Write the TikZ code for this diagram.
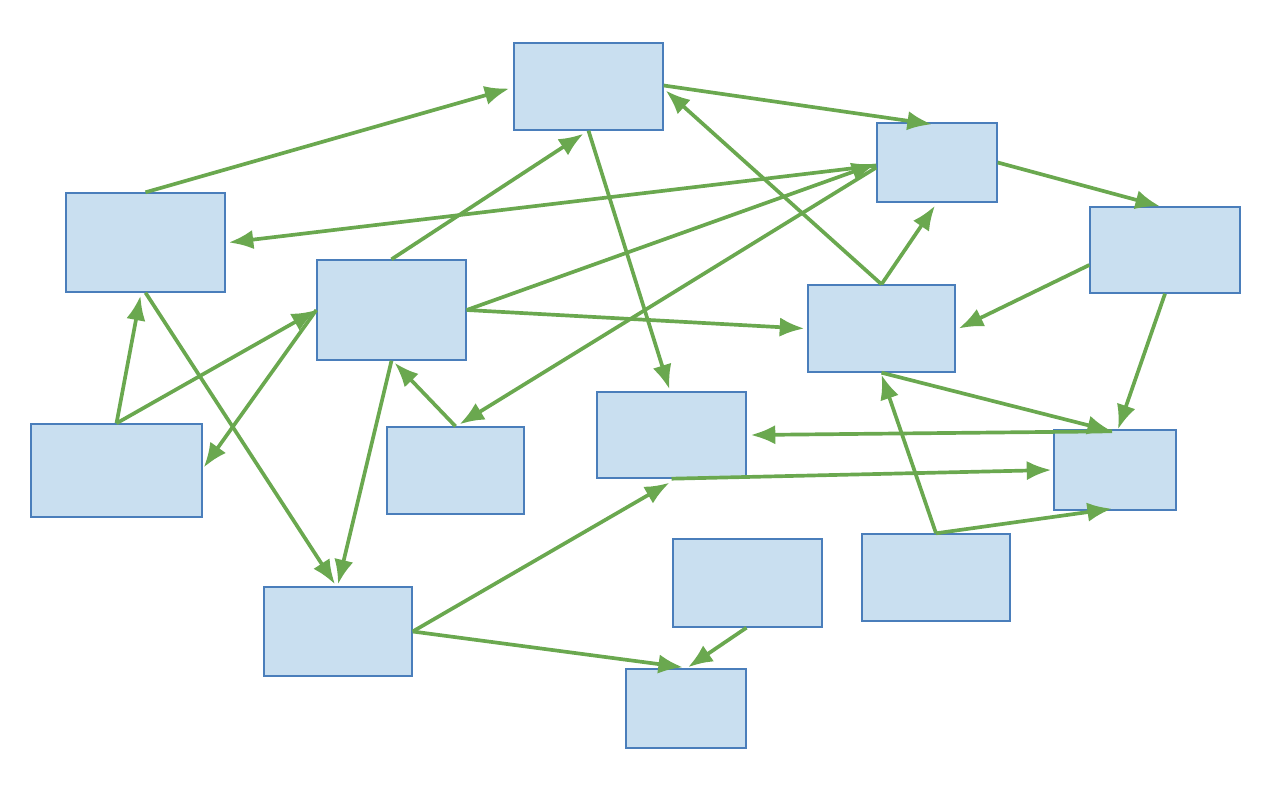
\documentclass[tikz,border=0pt]{standalone}
\usetikzlibrary{calc,arrows.meta}

\definecolor{boxfill}{HTML}{C9DFF0}
\definecolor{boxline}{HTML}{4A7EBB}
\definecolor{arrowgreen}{HTML}{6AA84F}

\tikzset{
  box/.style={draw=boxline, fill=boxfill, line width=0.8pt, inner sep=0pt},
  link/.style={draw=arrowgreen, line width=2.1pt, -{Latex[length=14pt,width=11pt]}}
}

\begin{document}
\begin{tikzpicture}[x=0.02cm, y=-0.02cm]
					\useasboundingbox (0,0) rectangle (1280,800);

					% Boxes
					\node[box, minimum width=2.98cm, minimum height=1.74cm] (A) at (588.5,86.5) {};
					\node[box, minimum width=2.4cm, minimum height=1.58cm] (B) at (937,162.5) {};
					\node[box, minimum width=3cm, minimum height=1.72cm] (C) at (1165,250) {};
					\node[box, minimum width=3.18cm, minimum height=1.98cm] (D) at (145.5,242.5) {};
					\node[box, minimum width=2.98cm, minimum height=2cm] (E) at (391.5,310) {};
					\node[box, minimum width=2.94cm, minimum height=1.74cm] (F) at (881.5,328.5) {};
					\node[box, minimum width=3.42cm, minimum height=1.86cm] (G) at (116.5,470.5) {};
					\node[box, minimum width=2.74cm, minimum height=1.74cm] (H) at (455.5,470.5) {};
					\node[box, minimum width=2.98cm, minimum height=1.72cm] (I) at (671.5,435) {};
					\node[box, minimum width=2.44cm, minimum height=1.6cm] (J) at (1115,470) {};
					\node[box, minimum width=2.96cm, minimum height=1.74cm] (K) at (936,577.5) {};
					\node[box, minimum width=2.98cm, minimum height=1.76cm] (L) at (747.5,583) {};
					\node[box, minimum width=2.96cm, minimum height=1.78cm] (M) at (338,631.5) {};
					\node[box, minimum width=2.4cm, minimum height=1.58cm] (N) at (686,708.5) {};

					% Connectors
					\draw[link] (D.north) -- ($(A.west)+(-4,2)$);
					\draw[link] ($(A.east)+(0,-1)$) -- ($(B.north)+(-5,2)$);
					\draw[link] ($(B.west)+(0,3)$) -- ($(D.east)+(3,0)$);
					\draw[link] (B.east) -- ($(C.north)+(-5,0)$);
					\draw[link] (E.north) -- ($(A.south)+(-5,3)$);
					\draw[link] (E.east) -- ($(B.west)+(0,1)$);
					\draw[link] (E.east) -- ($(F.west)+(-3,0)$);
					\draw[link] ($(B.west)+(0,5)$) -- ($(H.north)+(4,-2)$);
					\draw[link] (F.north) -- ($(A.east)+(2,4)$);
					\draw[link] (F.north) -- ($(B.south)+(-2,3)$);
					\draw[link] ($(C.west)+(0,15)$) -- ($(F.east)+(3,0)$);
					\draw[link] (C.south) -- ($(J.north)+(3,0)$);
					\draw[link] (F.south) -- ($(J.north)+(-3,2)$);
					\draw[link] ($(J.north)+(-3,2)$) -- ($(I.east)+(4,0)$);
					\draw[link] (I.south) -- ($(J.west)+(-2,0)$);
					\draw[link] (K.north) -- ($(F.south)+(0,2)$);
					\draw[link] (K.north) -- ($(J.south)+(-3,-2)$);
					\draw[link] (A.south) -- ($(I.north)+(-2,-2)$);
					\draw[link] (D.south) -- ($(M.north)+(-3,-2)$);
					\draw[link] (G.north) -- ($(D.south)+(-5,3)$);
					\draw[link] (G.north) -- (E.west);
					\draw[link] (E.west) -- ($(G.east)+(1,-3)$);
					\draw[link] (E.south) -- ($(M.north)+(0,-2)$);
					\draw[link] (H.north) -- ($(E.south)+(3,2)$);
					\draw[link] (M.east) -- ($(I.south)+(-2,4)$);
					\draw[link] (M.east) -- ($(N.north)+(-3,-1)$);
					\draw[link] ($(L.south)+(-1,0)$) -- ($(N.north)+(2,-1)$);
				\end{tikzpicture}
\end{document}
